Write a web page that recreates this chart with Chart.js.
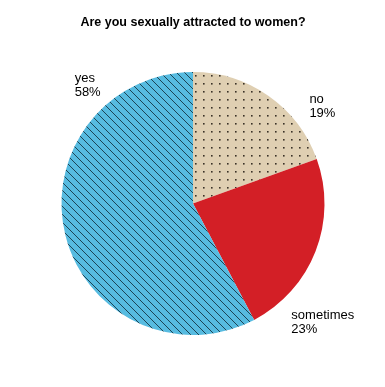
<!DOCTYPE html>
<html>
<head>
<meta charset="utf-8">
<script src="https://cdn.jsdelivr.net/npm/chart.js@4"></script>
<style>
  html, body { margin: 0; padding: 0; background: #fff; }
  #wrap { width: 385px; height: 387px; }
</style>
</head>
<body>
<div id="wrap"><canvas id="pieChart"></canvas></div>
<script>
const chartTitle = 'Are you sexually attracted to women?';
const categories = ['no', 'sometimes', 'yes'];
const shares = [19.5, 22.8, 57.7];
const shareLabels = ['19%', '23%', '58%'];

// label anchors, in units of the pie radius from its centre (left edge, first baseline)
const labelSpots = [[0.885, -0.765], [0.748, 0.88], [-0.90, -0.925]];

function hatchPattern() {
    const s = 8;
    const c = document.createElement('canvas');
    c.width = s; c.height = s;
    const g = c.getContext('2d');
    g.fillStyle = '#57bbe0';
    g.fillRect(0, 0, s, s);
    g.strokeStyle = '#1c4455';
    g.lineWidth = 1;
    g.beginPath();
    g.moveTo(-1, -1); g.lineTo(s + 1, s + 1);
    g.moveTo(-1, s - 1); g.lineTo(1, s + 1);
    g.moveTo(s - 1, -1); g.lineTo(s + 1, 1);
    g.stroke();
    return g.createPattern(c, 'repeat');
}

function dotPattern() {
    const s = 8;
    const c = document.createElement('canvas');
    c.width = s; c.height = s;
    const g = c.getContext('2d');
    g.fillStyle = '#dfcfb2';
    g.fillRect(0, 0, s, s);
    g.fillStyle = '#3a3228';
    g.fillRect(3, 3, 1.6, 1.6);
    return g.createPattern(c, 'repeat');
}

const sliceLabels = {
    id: 'sliceLabels',
    afterDatasetsDraw(chart) {
        const ctx = chart.ctx;
        const arcs = chart.getDatasetMeta(0).data;
        ctx.save();
        ctx.fillStyle = '#000';
        ctx.font = '13px "Liberation Sans", Arial, sans-serif';
        ctx.textAlign = 'left';
        ctx.textBaseline = 'alphabetic';
        arcs.forEach(function (arc, i) {
            const r = arc.outerRadius;
            const x = arc.x + labelSpots[i][0] * r;
            const y = arc.y + labelSpots[i][1] * r;
            ctx.fillText(categories[i], x, y);
            ctx.fillText(shareLabels[i], x, y + 14);
        });
        ctx.restore();
    }
};

new Chart(document.getElementById('pieChart'), {
    type: 'pie',
    data: {
        labels: categories,
        datasets: [{
            data: shares,
            backgroundColor: [dotPattern(), '#d31f26', hatchPattern()],
            borderWidth: 0
        }]
    },
    options: {
        responsive: true,
        maintainAspectRatio: false,
        animation: false,
        layout: { padding: { left: 1, right: 0, top: 0, bottom: 52 } },
        plugins: {
            legend: { display: false },
            tooltip: { enabled: false },
            title: {
                display: true,
                text: chartTitle,
                color: '#000',
                font: { family: '"Liberation Sans", Arial, sans-serif', size: 12.5, weight: 'bold', lineHeight: 1.2 },
                padding: { top: 15, bottom: 42 }
            }
        }
    },
    plugins: [sliceLabels]
});
</script>
</body>
</html>
